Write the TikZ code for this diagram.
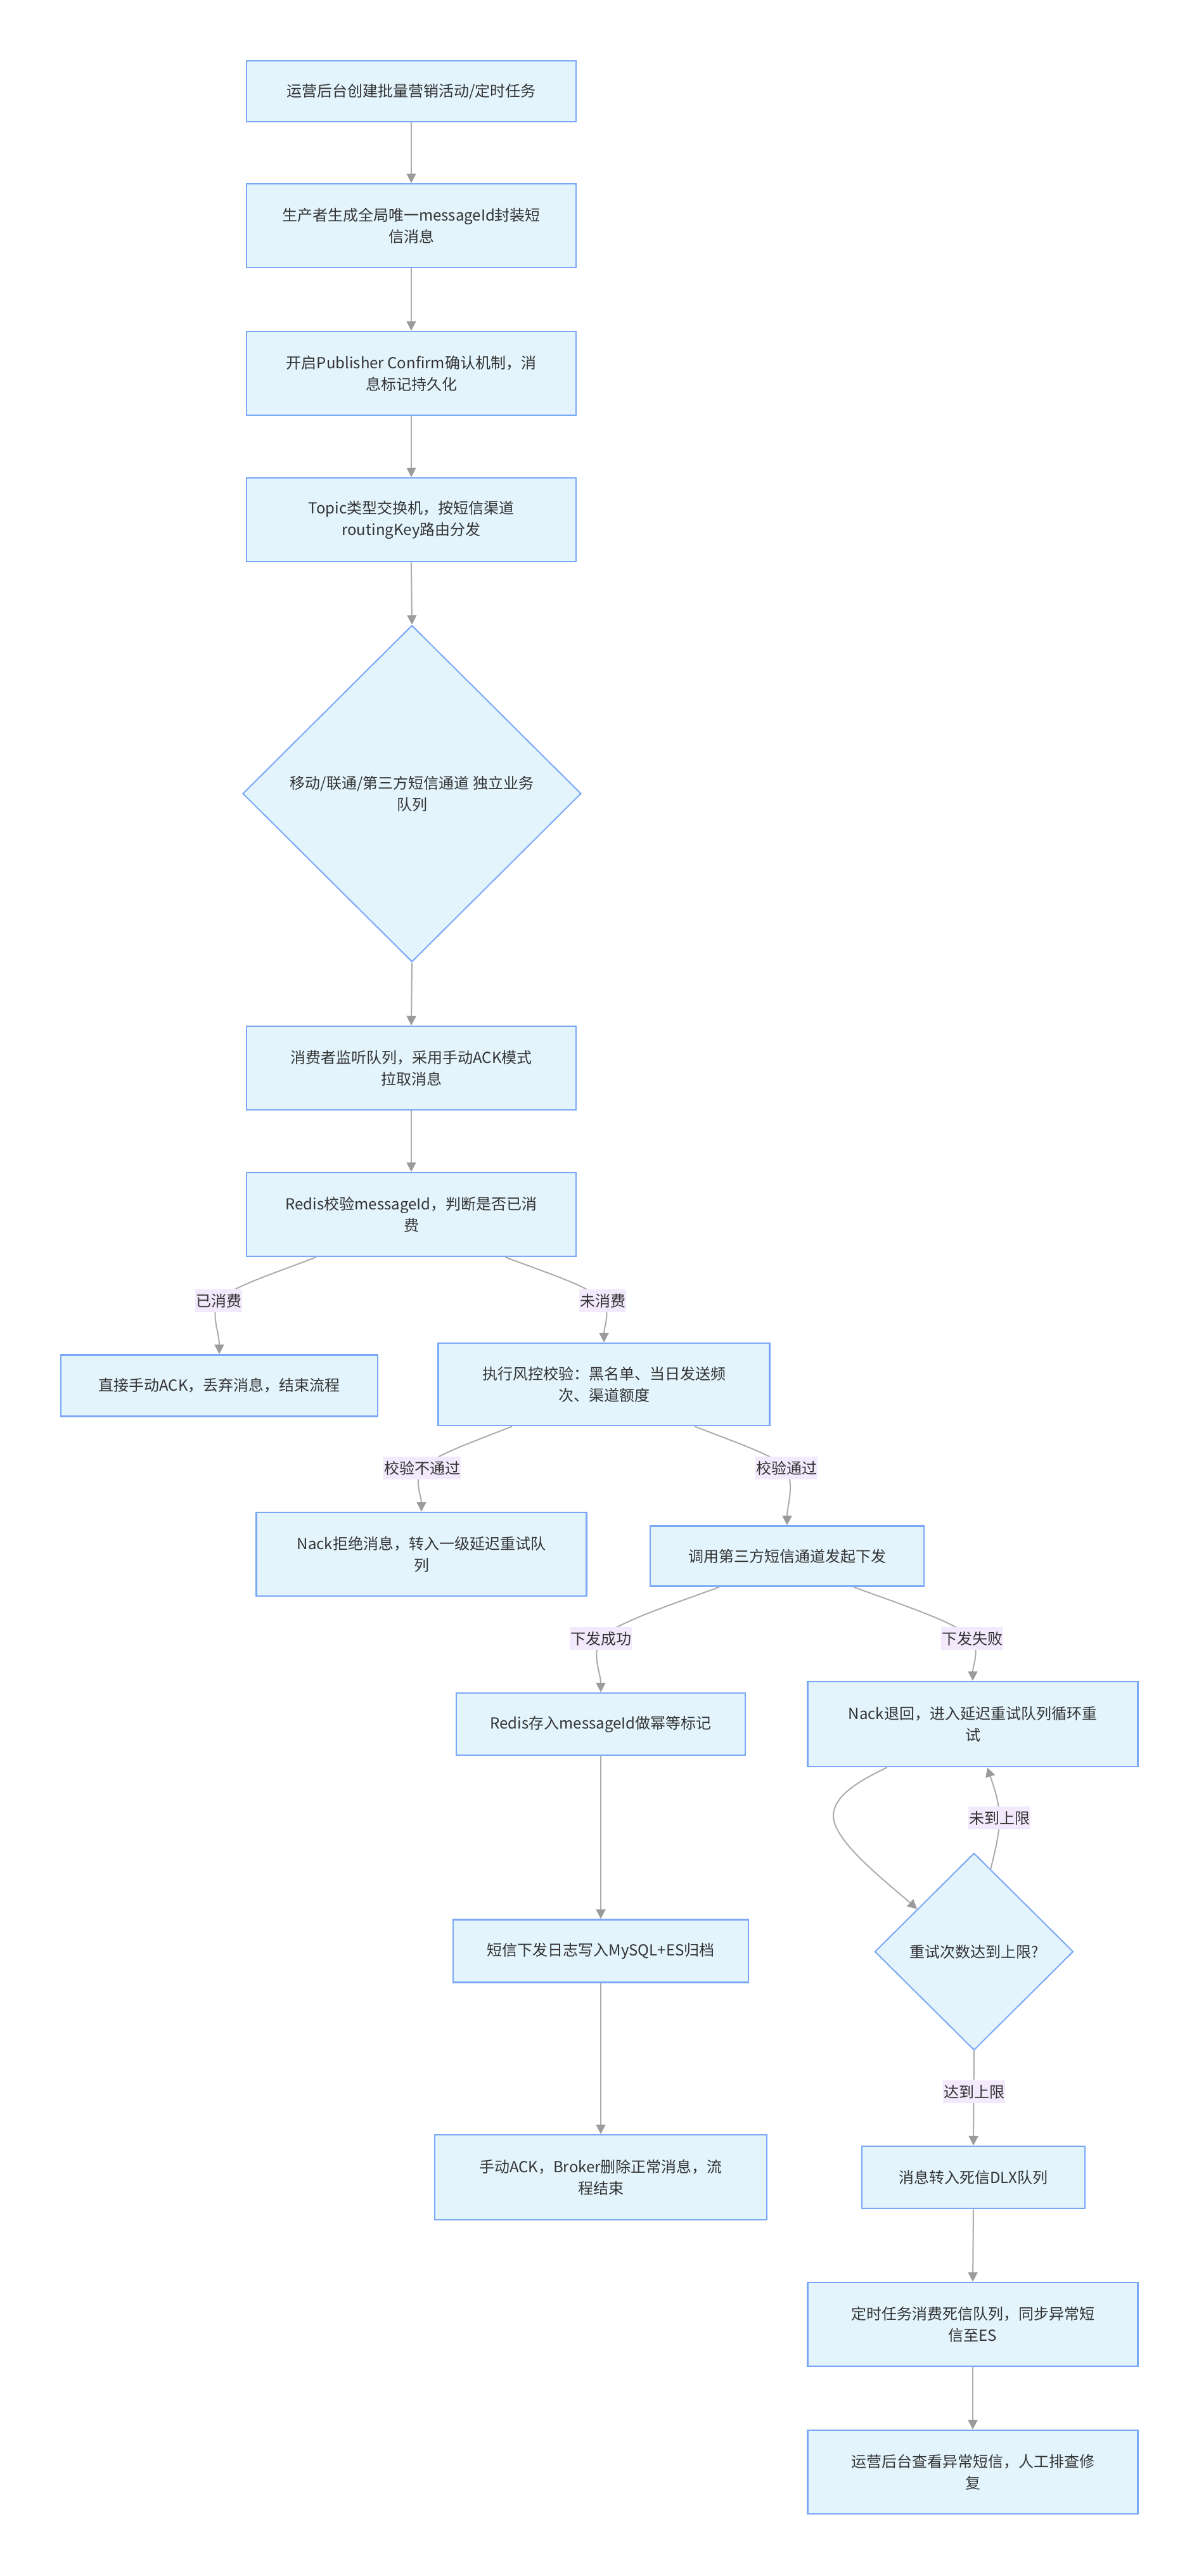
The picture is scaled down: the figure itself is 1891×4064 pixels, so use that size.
\documentclass[tikz,border=0pt]{standalone}
\usepackage{fontspec}
\setmainfont{Noto Sans CJK SC}
\usetikzlibrary{shapes.geometric,arrows.meta,calc}
\definecolor{boxfill}{RGB}{227,244,253}
\definecolor{boxline}{RGB}{122,168,248}
\definecolor{edgecol}{RGB}{172,172,172}
\definecolor{tipcol}{RGB}{155,155,155}
\definecolor{lblfill}{RGB}{242,233,252}
\definecolor{txt}{RGB}{51,51,51}
\begin{document}
\begin{tikzpicture}[x=1pt,y=-1pt,
  box/.style={draw=boxline, fill=boxfill, line width=2.5pt, text=txt, align=center, inner sep=0pt,
    font=\fontsize{24pt}{34pt}\selectfont},
  dia/.style={box, diamond, line width=2pt},
  lbl/.style={fill=lblfill, text=txt, inner xsep=1pt, inner ysep=2pt, minimum height=36pt,
    font=\fontsize{24pt}{30pt}\selectfont},
  flow/.style={draw=edgecol, line width=2pt,
    -{Triangle[length=15pt,width=15pt,fill=tipcol,color=tipcol]}}
]
\fill[white] (0,0) rectangle (1891,4064);
\useasboundingbox (0,0) rectangle (1891,4064);

% nodes
\node[box, minimum width=520pt, minimum height=96pt] (b1) at (649,144) {运营后台创建批量营销活动/定时任务};
\node[box, minimum width=520pt, minimum height=132pt] (b2) at (649,356) {生产者生成全局唯一messageId封装短\\信消息};
\node[box, minimum width=520pt, minimum height=132pt] (b3) at (649,589) {开启Publisher Confirm确认机制，消\\息标记持久化};
\node[box, minimum width=520pt, minimum height=132pt] (b4) at (649,820) {Topic类型交换机，按短信渠道\\routingKey路由分发};
\node[dia, minimum width=534pt, minimum height=531pt] (d1) at (650,1252) {移动/联通/第三方短信通道 独立业务\\队列};
\node[box, minimum width=520pt, minimum height=132pt] (b5) at (649,1685) {消费者监听队列，采用手动ACK模式\\拉取消息};
\node[box, minimum width=520pt, minimum height=132pt] (b6) at (649,1916) {Redis校验messageId，判断是否已消\\费};
\node[box, minimum width=500pt, minimum height=97pt] (b7) at (346,2186) {直接手动ACK，丢弃消息，结束流程};
\node[box, minimum width=523pt, minimum height=130pt] (b8) at (953,2184) {执行风控校验：黑名单、当日发送频\\次、渠道额度};
\node[box, minimum width=521pt, minimum height=132pt] (b9) at (665,2452) {Nack拒绝消息，转入一级延迟重试队\\列};
\node[box, minimum width=432pt, minimum height=95pt] (b10) at (1242,2455) {调用第三方短信通道发起下发};
\node[box, minimum width=456pt, minimum height=98pt] (b11) at (948,2720) {Redis存入messageId做幂等标记};
\node[box, minimum width=521pt, minimum height=134pt] (b12) at (1535,2720) {Nack退回，进入延迟重试队列循环重\\试};
\node[dia, minimum width=313pt, minimum height=311pt] (d2) at (1537,3079) {重试次数达到上限?};
\node[box, minimum width=466pt, minimum height=99pt] (b13) at (948,3078) {短信下发日志写入MySQL+ES归档};
\node[box, minimum width=524pt, minimum height=134pt] (b14) at (948,3435) {手动ACK，Broker删除正常消息，流\\程结束};
\node[box, minimum width=352pt, minimum height=98pt] (b15) at (1536,3435) {消息转入死信DLX队列};
\node[box, minimum width=521pt, minimum height=132pt] (b16) at (1535,3667) {定时任务消费死信队列，同步异常短\\信至ES};
\node[box, minimum width=521pt, minimum height=132pt] (b17) at (1535,3900) {运营后台查看异常短信，人工排查修\\复};

% label positions
\coordinate (c1) at (345,2052);
\coordinate (c2) at (951,2052);
\coordinate (c3) at (666,2316);
\coordinate (c4) at (1241,2316);
\coordinate (c5) at (948,2585);
\coordinate (c6) at (1534,2585);
\coordinate (c7) at (1577,2868);
\coordinate (c8) at (1537,3300);
\coordinate (loopmid) at (1315,2865);

% straight edges
\draw[flow] (b1.south) -- (b2.north);
\draw[flow] (b2.south) -- (b3.north);
\draw[flow] (b3.south) -- (b4.north);
\draw[flow] (b4.south) -- (d1.north);
\draw[flow] (d1.south) -- (b5.north);
\draw[flow] (b5.south) -- (b6.north);
\draw[flow] (b11.south) -- (b13.north);
\draw[flow] (b13.south) -- (b14.north);
\draw[flow] (d2.south) -- (b15.north);
\draw[flow] (b15.south) -- (b16.north);
\draw[flow] (b16.south) -- (b17.north);

% curved edges
\draw[flow] ([xshift=-150pt]b6.south) .. controls (430,2010) and (365,2030) .. (c1)
  .. controls (332,2075) and (346,2100) .. (b7.north);
\draw[flow] ([xshift=148pt]b6.south) .. controls (868,2010) and (932,2030) .. (c2)
  .. controls (964,2072) and (953,2092) .. (b8.north);
\draw[flow] ([xshift=-145pt]b8.south) .. controls (743,2276) and (685,2296) .. (c3)
  .. controls (653,2338) and (665,2360) .. (b9.north);
\draw[flow] ([xshift=143pt]b8.south) .. controls (1162,2276) and (1222,2296) .. (c4)
  .. controls (1254,2345) and (1242,2375) .. (b10.north);
\draw[flow] ([xshift=-107pt]b10.south) .. controls (1050,2535) and (972,2560) .. (c5)
  .. controls (933,2610) and (948,2640) .. (b11.north);
\draw[flow] ([xshift=105pt]b10.south) .. controls (1432,2535) and (1510,2560) .. (c6)
  .. controls (1546,2605) and (1535,2628) .. (b12.north);
\draw[flow] ([xshift=-135pt]b12.south) .. controls (1350,2812) and (1315,2835) .. (loopmid)
  .. controls (1315,2905) and (1400,2970) .. ($(d2.north)!0.57!(d2.west)$);
\draw[flow] ($(d2.north)!0.167!(d2.east)$) .. controls (1570,2920) and (1577,2895) .. (c7)
  .. controls (1577,2840) and (1565,2810) .. ([xshift=23pt]b12.south);

% labels
\node[lbl] (l1) at (c1) {已消费};
\node[lbl] (l2) at (c2) {未消费};
\node[lbl] (l3) at (c3) {校验不通过};
\node[lbl] (l4) at (c4) {校验通过};
\node[lbl] (l5) at (c5) {下发成功};
\node[lbl] (l6) at (c6) {下发失败};
\node[lbl] (l7) at (c7) {未到上限};
\node[lbl] (l8) at (c8) {达到上限};
\end{tikzpicture}
\end{document}
